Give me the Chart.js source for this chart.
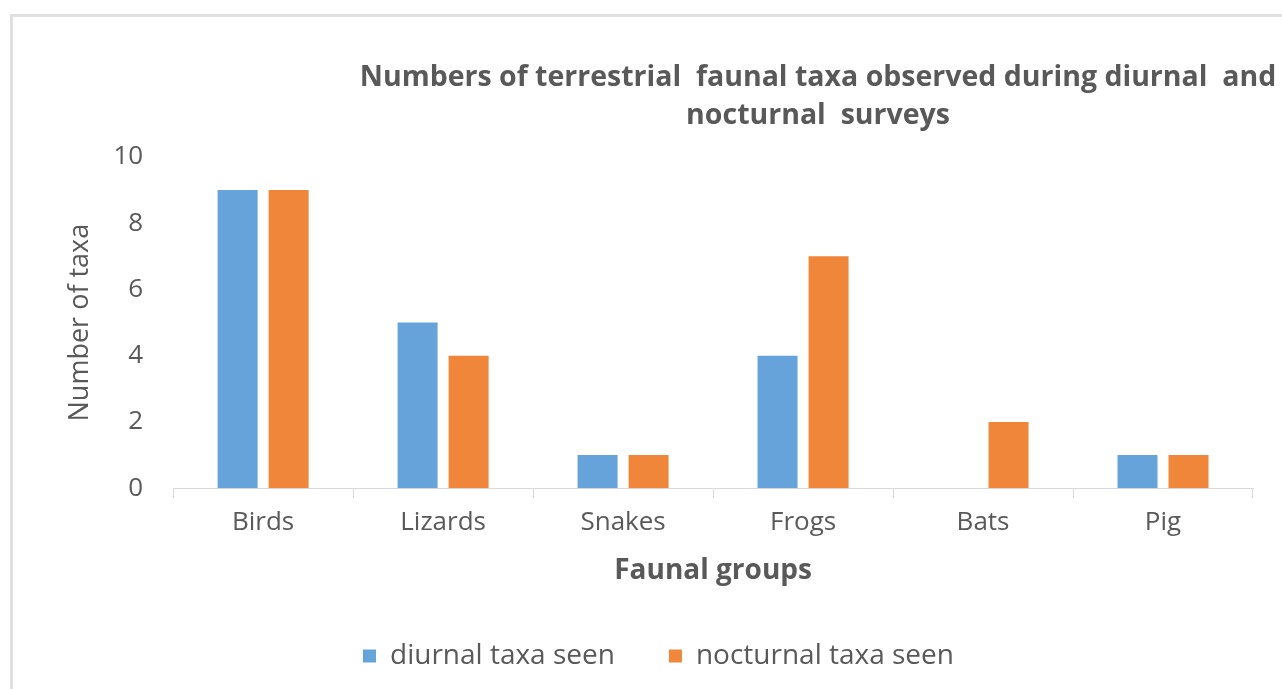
<!DOCTYPE html>
<html lang="en">
<head>
    <meta charset="UTF-8">
    <title>Terrestrial faunal taxa</title>
    <script src="https://cdn.jsdelivr.net/npm/chart.js"></script>
    <style>
        body { margin: 0; background: #fff; overflow: hidden; }
        #frame { position: absolute; left: 10px; top: 14px; width: 1290px; height: 712px; border: 3px solid #e0e0e0; box-sizing: border-box; }
        #frame canvas { display: block; }
    </style>
</head>
<body>
    <div id="frame"><canvas id="taxaChart" width="1284" height="663"></canvas></div>

    <script>
        // values
        const groups = ['Birds', 'Lizards', 'Snakes', 'Frogs', 'Bats', 'Pig'];
        const diurnal = [9, 5, 1, 4, 0, 1];
        const nocturnal = [9, 4, 1, 7, 2, 1];
        const titleLines = ['Numbers of terrestrial  faunal taxa observed during diurnal  and', 'nocturnal  surveys'];

        const grey = '#595959';
        const fontFam = '"Open Sans", "DejaVu Sans", sans-serif';

        // excel-style title, sits right of centre and runs off the edge
        const titlePlugin = {
            id: 'offTitle',
            afterDraw(chart) {
                const c = chart.ctx;
                c.save();
                c.fillStyle = grey;
                c.font = 'bold 28.5px ' + fontFam;
                c.textAlign = 'center';
                c.textBaseline = 'middle';
                c.fillText(titleLines[0], 805, 61);
                c.fillText(titleLines[1], 805, 99);
                c.restore();
            }
        };

        new Chart(document.getElementById('taxaChart'), {
            type: 'bar',
            data: {
                labels: groups,
                datasets: [
                    { label: 'diurnal taxa seen', data: diurnal, backgroundColor: '#65a3da' },
                    { label: 'nocturnal taxa seen', data: nocturnal, backgroundColor: '#ef863a' }
                ]
            },
            options: {
                responsive: false,
                animation: false,
                categoryPercentage: 0.567,
                barPercentage: 0.784,
                layout: { padding: { top: 140, left: 51, right: 44, bottom: 0 } },
                plugins: {
                    title: { display: false },
                    tooltip: { enabled: false },
                    legend: {
                        position: 'bottom',
                        labels: {
                            color: grey,
                            font: { family: fontFam, size: 28 },
                            boxWidth: 13,
                            boxHeight: 13,
                            padding: 54
                        }
                    }
                },
                scales: {
                    x: {
                        grid: { offset: true, drawOnChartArea: false, color: '#d9d9d9', tickLength: 10 },
                        border: { color: '#d9d9d9', width: 1 },
                        ticks: { color: grey, font: { family: fontFam, size: 26 }, padding: 9 },
                        title: { display: true, text: 'Faunal groups', color: grey, font: { family: fontFam, size: 28, weight: 'bold' }, padding: { top: 7, bottom: 0 } }
                    },
                    y: {
                        min: 0,
                        max: 10,
                        ticks: { stepSize: 2, color: grey, font: { family: fontFam, size: 26 }, padding: 30 },
                        grid: { display: false, drawTicks: false },
                        border: { display: false },
                        title: { display: true, text: 'Number of taxa', color: grey, font: { family: fontFam, size: 27 }, padding: { top: 0, bottom: -13 } }
                    }
                }
            },
            plugins: [titlePlugin]
        });
    </script>
</body>
</html>
